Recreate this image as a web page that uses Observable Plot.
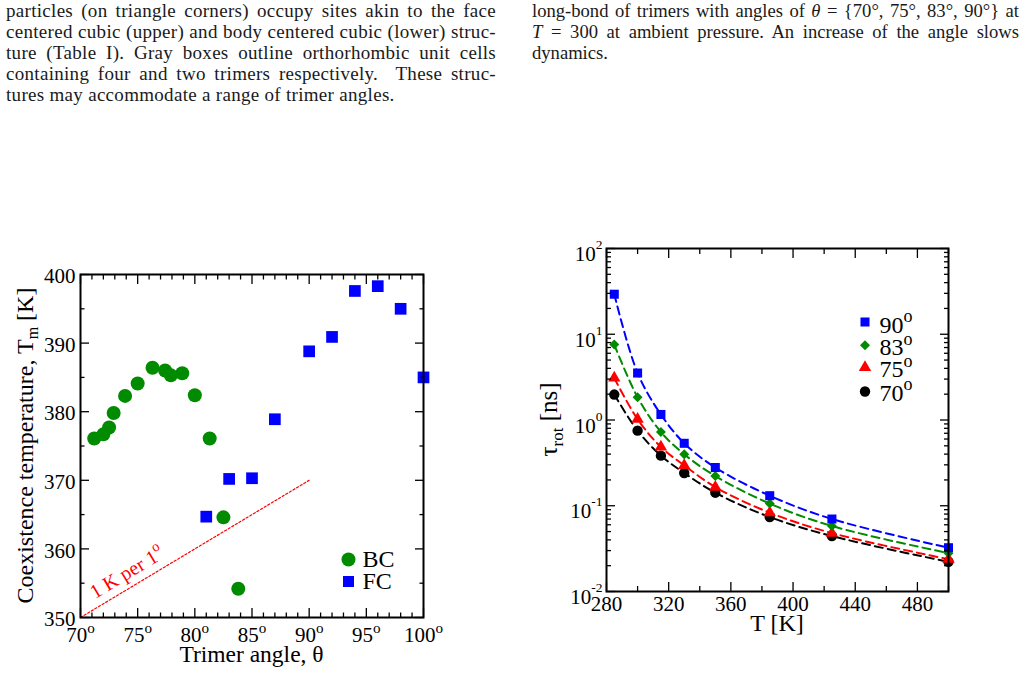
<!DOCTYPE html>
<html>
<head>
<meta charset="utf-8">
<script src="https://cdn.jsdelivr.net/npm/d3@7"></script>
<script src="https://cdn.jsdelivr.net/npm/@observablehq/plot@0.6"></script>
<style>
  html, body { margin: 0; padding: 0; background: #fff; }
  #page { position: relative; width: 1028px; height: 676px; overflow: hidden; font-family: "Liberation Serif", "Times New Roman", serif; }
  .col { position: absolute; top: 0; font-size: 19px; line-height: 21.1px; letter-spacing: 0.3px; color: #1a1a1a; }
  .col .j { text-align: justify; text-align-last: justify; }
  .chart { position: absolute; }
  .chart svg { max-width: none !important; }
</style>
</head>
<body>
<div id="page">
  <div class="col" style="left:6px;width:490px">
    <div class="j">particles (on triangle corners) occupy sites akin to the face</div>
    <div class="j">centered cubic (upper) and body centered cubic (lower) struc-</div>
    <div class="j">ture (Table I). Gray boxes outline orthorhombic unit cells</div>
    <div class="j">containing four and two trimers respectively. &nbsp;These struc-</div>
    <div>tures may accommodate a range of trimer angles.</div>
  </div>
  <div class="col" style="left:532px;width:487px;letter-spacing:0;font-size:18.6px">
    <div class="j" style="white-space:nowrap">long-bond of trimers with angles of <i>θ</i> = {70°, 75°, 83°, 90°} at</div>
    <div class="j"><i>T</i> = 300 at ambient pressure. An increase of the angle slows</div>
    <div>dynamics.</div>
  </div>
  <div class="chart" id="left" style="left:0px;top:240px;width:450px;height:436px"></div>
  <div class="chart" id="right" style="left:520px;top:220px;width:508px;height:456px"></div>
</div>
<script>
// ---------- Left chart data: coexistence temperature vs trimer angle ----------
const bcAngle = [71.2, 72.0, 72.5, 72.9, 73.9, 75.0, 76.3, 77.4, 77.9, 78.9, 80.0, 81.3, 82.5, 83.8];
const bcTemp  = [376.1, 376.7, 377.7, 379.8, 382.3, 384.1, 386.4, 386.0, 385.3, 385.6, 382.4, 376.1, 364.6, 354.2];
const fcAngle = [81, 83, 85, 87, 90, 92, 94, 96, 98, 100];
const fcTemp  = [364.7, 370.2, 370.3, 378.9, 388.8, 390.9, 397.6, 398.3, 395.0, 385.0];
const guideAngle = [70, 90];
const guideTemp  = [350, 370];
const guideNote  = [{angle: 74, temp: 354, label: "1 K per 1^o"}];
const angleMajor = [70, 75, 80, 85, 90, 95, 100];
const angleMinor = [71,72,73,74,76,77,78,79,81,82,83,84,86,87,88,89,91,92,93,94,96,97,98,99];
const tempMajor  = [350, 360, 370, 380, 390, 400];
const tempMinor  = [355, 365, 375, 385, 395];
const leftLegend = ["BC", "FC"];

// ---------- Right chart data: rotational relaxation time vs T ----------
const temps = [285, 300, 315, 330, 350, 385, 425, 500];
const tau90 = [29.3, 3.53, 1.16, 0.535, 0.279, 0.131, 0.070, 0.0324];
const tau83 = [7.58, 1.84, 0.725, 0.398, 0.222, 0.106, 0.058, 0.028];
const tau75 = [3.09, 1.02, 0.484, 0.296, 0.165, 0.083, 0.048, 0.0238];
const tau70 = [1.98, 0.751, 0.384, 0.241, 0.142, 0.0738, 0.0443, 0.0222];
const seriesNames = ["90", "83", "75", "70"];
const tMajor = [280, 320, 360, 400, 440, 480];
const tMinor = [300, 340, 380, 420, 460, 500];
const tauMajor = [0.01, 0.1, 1, 10, 100];

const green = "#008b00", blue = "#0000ff", red = "#ff0000", black = "#000000";
const font = '"Liberation Serif", "Times New Roman", serif';

const bc = bcAngle.map((a, i) => ({angle: a, temp: bcTemp[i]}));
const fc = fcAngle.map((a, i) => ({angle: a, temp: fcTemp[i]}));
const guide = guideAngle.map((a, i) => ({angle: a, temp: guideTemp[i]}));

const seriesStyle = {
  "90": {color: blue,  symbol: "square",   r: 5.1, tau: tau90},
  "83": {color: green, symbol: "diamond2", r: 4.5, tau: tau83},
  "75": {color: red,   symbol: "triangle", r: 4.6, tau: tau75},
  "70": {color: black, symbol: "circle",   r: 5.2, tau: tau70}
};

function boxTicksX(values, size) {
  return ["bottom", "top"].map(anchor => Plot.axisX({anchor, ticks: values, tickSize: -size, tickFormat: () => "", label: null, strokeWidth: 1.3}));
}
function boxTicksY(values, size) {
  return ["left", "right"].map(anchor => Plot.axisY({anchor, ticks: values, tickSize: -size, tickFormat: () => "", label: null, strokeWidth: 1.3}));
}

// superscripts: "base^sup"
function decorate(svg, supScale, raise) {
  d3.select(svg).selectAll("text").each(function () {
    const s = this.textContent;
    if (!s.includes("^")) return;
    const [base, sup] = s.split("^");
    const fs = parseFloat(getComputedStyle(this).fontSize) || 21;
    this.textContent = base;
    d3.select(this).append("tspan").attr("dy", -raise * fs).attr("font-size", fs * supScale).text(sup);
  });
}

// ---------------- LEFT CHART ----------------
const left = Plot.plot({
  width: 450, height: 436,
  marginLeft: 80, marginRight: 27, marginTop: 34, marginBottom: 59,
  style: {fontFamily: font, fontSize: "21px", color: "black", background: "transparent", overflow: "visible"},
  x: {domain: [70, 100]},
  y: {domain: [350, 400]},
  marks: [
    Plot.line(guide, {x: "angle", y: "temp", stroke: red, strokeWidth: 1.2, strokeDasharray: "2.2,2"}),
    Plot.text(guideNote, {x: "angle", y: "temp", text: "label", rotate: -31, fill: red, fontSize: 20, lineAnchor: "bottom", textAnchor: "middle", dx: 4, dy: -12}),
    Plot.dot(bc, {x: "angle", y: "temp", r: 7, fill: green, symbol: "circle"}),
    Plot.dot(fc, {x: "angle", y: "temp", r: 6.6, fill: blue, symbol: "square"}),
    ...boxTicksX(angleMajor, 9), ...boxTicksX(angleMinor, 4.5),
    ...boxTicksY(tempMajor, 9), ...boxTicksY(tempMinor, 4.5),
    Plot.axisX({anchor: "bottom", ticks: angleMajor, tickSize: 0, tickPadding: 10, fontSize: 21, tickFormat: d => `${d}^o`, label: null}),
    Plot.axisY({anchor: "left", ticks: tempMajor, tickSize: 0, tickPadding: 5, dy: 2, fontSize: 21, tickFormat: d => String(d), label: null}),
    Plot.frame({stroke: "black", strokeWidth: 2}),
    Plot.dot([leftLegend[0]], {frameAnchor: "bottom-right", dx: -75, dy: -58, r: 7, fill: green, symbol: "circle"}),
    Plot.dot([leftLegend[1]], {frameAnchor: "bottom-right", dx: -75, dy: -36, r: 6.2, fill: blue, symbol: "square"}),
    Plot.text([leftLegend[0]], {frameAnchor: "bottom-right", dx: -61, dy: -58, text: d => d, textAnchor: "start", lineAnchor: "middle", fontSize: 24}),
    Plot.text([leftLegend[1]], {frameAnchor: "bottom-right", dx: -61, dy: -36, text: d => d, textAnchor: "start", lineAnchor: "middle", fontSize: 24})
  ]
});
document.getElementById("left").appendChild(left);
decorate(left, 0.72, 0.47);
{
  const s = d3.select(left);
  const xr = left.scale("x").range, yr = left.scale("y").range;
  s.append("text").attr("x", (xr[0] + xr[1]) / 2).attr("y", 422).attr("text-anchor", "middle")
    .attr("font-size", 23.5).attr("fill", "black").text("Trimer angle, θ");
  const t = s.append("text").attr("transform", `translate(33,${(yr[0] + yr[1]) / 2}) rotate(-90)`)
    .attr("text-anchor", "middle").attr("font-size", 24).attr("fill", "black");
  t.append("tspan").text("Coexistence temperature, T");
  t.append("tspan").attr("dy", 5).attr("font-size", 16).text("m");
  t.append("tspan").attr("dy", -5).text(" [K]");
}

// ---------------- RIGHT CHART ----------------
const rows = seriesNames.flatMap(n => temps.map((T, i) => ({series: n, T, tau: seriesStyle[n].tau[i]})));
const minorTau = [];
[0.01, 0.1, 1, 10].forEach(p => [2,3,4,5,6,7,8,9].forEach(m => minorTau.push(+(m * p).toPrecision(3))));

const rightMarks = [];
[...seriesNames].reverse().forEach(n => {
  const st = seriesStyle[n];
  rightMarks.push(Plot.line(rows.filter(d => d.series === n), {x: "T", y: "tau", stroke: st.color, strokeWidth: 2, strokeDasharray: "8,5", curve: "catmull-rom"}));
});
[...seriesNames].reverse().forEach(n => {
  const st = seriesStyle[n];
  rightMarks.push(Plot.dot(rows.filter(d => d.series === n), {x: "T", y: "tau", r: st.r, fill: st.color, symbol: st.symbol}));
});
const legendDotDy = [73.5, 96.7, 119, 143];
const legendTextDy = [76.6, 99.3, 121.3, 145];
seriesNames.forEach((n, i) => {
  const st = seriesStyle[n];
  rightMarks.push(Plot.dot([n], {frameAnchor: "top-right", dx: -83.5, dy: legendDotDy[i], r: st.r, fill: st.color, symbol: st.symbol}));
  rightMarks.push(Plot.text([n], {frameAnchor: "top-right", dx: -69, dy: legendTextDy[i], text: d => `${d}^o`, textAnchor: "start", lineAnchor: "middle", fontSize: 24}));
});

const right = Plot.plot({
  width: 508, height: 456,
  marginLeft: 86, marginRight: 80, marginTop: 28, marginBottom: 85,
  style: {fontFamily: font, fontSize: "21px", color: "black", background: "transparent", overflow: "visible"},
  x: {domain: [280, 500]},
  y: {type: "log", domain: [0.01, 100]},
  marks: [
    ...rightMarks,
    ...boxTicksX(tMajor, 9), ...boxTicksX(tMinor, 5),
    ...boxTicksY(tauMajor, 9), ...boxTicksY(minorTau, 5),
    Plot.axisX({anchor: "bottom", ticks: tMajor, tickSize: 0, tickPadding: 5, fontSize: 21, tickFormat: d => String(d), label: null}),
    Plot.axisY({anchor: "left", ticks: tauMajor, tickSize: 0, tickPadding: 4, dy: 6, fontSize: 21, tickFormat: d => `10^${Math.round(Math.log10(d))}`, label: null}),
    Plot.frame({stroke: "black", strokeWidth: 2})
  ]
});
document.getElementById("right").appendChild(right);
// superscripts: legend degrees and powers of ten
d3.select(right).selectAll("text").each(function () {
  const s = this.textContent;
  if (!s.includes("^")) return;
  const [base, sup] = s.split("^");
  const fs = parseFloat(getComputedStyle(this).fontSize) || 21;
  this.textContent = base;
  const isPow = base === "10";
  d3.select(this).append("tspan")
    .attr("dy", isPow ? -12 : -0.45 * fs)
    .attr("font-size", isPow ? 13.5 : 0.75 * fs)
    .text(sup);
});
{
  const s = d3.select(right);
  const xr = right.scale("x").range, yr = right.scale("y").range;
  s.append("text").attr("x", (xr[0] + xr[1]) / 2).attr("y", 411).attr("text-anchor", "middle")
    .attr("font-size", 24).attr("fill", "black").text("T [K]");
  const t = s.append("text").attr("transform", `translate(37,${(yr[0] + yr[1]) / 2}) rotate(-90)`)
    .attr("text-anchor", "middle").attr("font-size", 25).attr("fill", "black");
  t.append("tspan").text("τ");
  t.append("tspan").attr("dy", 6).attr("font-size", 17).text("rot");
  t.append("tspan").attr("dy", -6).text(" [ns]");
}
</script>
</body>
</html>
